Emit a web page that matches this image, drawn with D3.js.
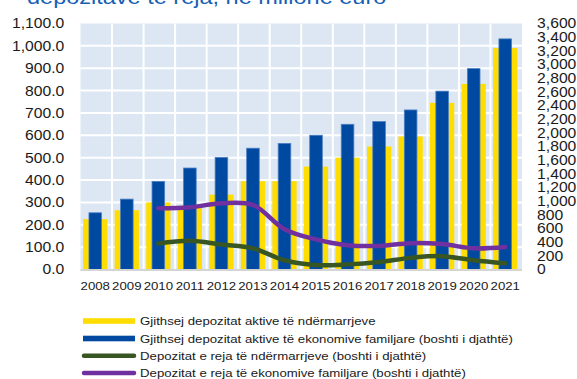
<!DOCTYPE html>
<html>
<head>
<meta charset="utf-8">
<script src="https://cdn.jsdelivr.net/npm/d3@7"></script>
<style>
  html, body { margin: 0; padding: 0; background: #fff; }
  svg { display: block; font-family: "Liberation Sans", Arial, sans-serif; }
</style>
</head>
<body>
<svg id="chart" width="577" height="379"></svg>
<script>
// Deposits by sector, million euro
const years = ["2008","2009","2010","2011","2012","2013","2014","2015","2016","2017","2018","2019","2020","2021"];
const enterpriseStock = [225, 265, 300, 285, 335, 395, 395, 460, 500, 550, 595, 745, 830, 990];        // left axis
const householdStock  = [830, 1030, 1290, 1485, 1640, 1775, 1845, 1965, 2125, 2165, 2335, 2610, 2940, 3375]; // right axis
const lineYears = ["2010","2011","2012","2013","2014","2015","2016","2017","2018","2019","2020","2021"];
const enterpriseNew = [380, 420, 365, 310, 135, 65, 75, 110, 170, 195, 135, 90];     // right axis
const householdNew  = [895, 910, 970, 945, 590, 440, 355, 345, 385, 372, 310, 330];  // right axis
const leftTicks  = d3.range(0, 1101, 100);
const rightTicks = d3.range(0, 3601, 200);
const titleText = "depozitave të reja, në milionë euro";
const legendLabels = [
  "Gjithsej depozitat aktive të ndërmarrjeve",
  "Gjithsej depozitat aktive të ekonomive familjare (boshti i djathtë)",
  "Depozitat e reja të ndërmarrjeve (boshti i djathtë)",
  "Depozitat e reja të ekonomive familjare (boshti i djathtë)"
];

const COL = {
  yellow: "#ffdd00",
  blue: "#0049a0",
  blueEdge: "#4f7fc4",
  green: "#375623",
  purple: "#7030a0",
  plotBg: "#dce7f3",
  text: "#1a1a1a",
  title: "#1660b6"
};
const SX = 1.12; // horizontal text widening

const svg = d3.select("#chart");
const P = { left: 80.5, right: 522, top: 23.5, bottom: 269.5 };

const x = d3.scaleBand().domain(years).range([P.left, P.right]).padding(0);
const yL = d3.scaleLinear().domain([0, 1100]).range([P.bottom, P.top]);
const yR = d3.scaleLinear().domain([0, 3600]).range([P.bottom, P.top]);

// Title (second line, running off the top edge)
svg.append("text")
  .attr("transform", `translate(27,3.5) scale(${SX},1)`)
  .attr("fill", COL.title)
  .attr("font-size", 21)
  .text(titleText);

// Plot background
svg.append("rect")
  .attr("x", P.left).attr("y", P.top)
  .attr("width", P.right - P.left).attr("height", P.bottom - P.top)
  .attr("fill", COL.plotBg);

// Grid
const grid = svg.append("g").attr("stroke", "#fff").attr("stroke-width", 2);
grid.selectAll("line.h").data(leftTicks.slice(1, -1)).join("line")
  .attr("x1", P.left).attr("x2", P.right)
  .attr("y1", d => yL(d)).attr("y2", d => yL(d));
grid.selectAll("line.v").data(years.slice(1)).join("line")
  .attr("x1", d => x(d)).attr("x2", d => x(d))
  .attr("y1", P.top).attr("y2", P.bottom);

// Bars
const bw = x.bandwidth();
svg.append("g").selectAll("rect").data(years).join("rect")
  .attr("x", (d, i) => x(d) + bw / 2 - 1 - bw * 0.385)
  .attr("width", bw * 0.77)
  .attr("y", (d, i) => yL(enterpriseStock[i]))
  .attr("height", (d, i) => yL(0) - yL(enterpriseStock[i]))
  .attr("fill", COL.yellow);

svg.append("g").selectAll("rect").data(years).join("rect")
  .attr("x", (d, i) => x(d) + bw / 2 - 1 - bw * 0.2)
  .attr("width", bw * 0.4)
  .attr("y", (d, i) => yR(householdStock[i]))
  .attr("height", (d, i) => yR(0) - yR(householdStock[i]))
  .attr("fill", COL.blue)
  .attr("stroke", COL.blueEdge)
  .attr("stroke-width", 0.8);

// Axis baseline
svg.append("line")
  .attr("x1", P.left).attr("x2", P.right)
  .attr("y1", P.bottom + 0.5).attr("y2", P.bottom + 0.5)
  .attr("stroke", "#d4d4d4").attr("stroke-width", 2);

// Lines
const lineGen = vals => d3.line()
  .x((d, i) => x(lineYears[i]) + bw / 2 - 1)
  .y(d => yR(d))
  .curve(d3.curveCatmullRom.alpha(0.5))(vals);

svg.append("path").attr("d", lineGen(enterpriseNew))
  .attr("fill", "none").attr("stroke", COL.green)
  .attr("stroke-width", 4.5).attr("stroke-linecap", "round");
svg.append("path").attr("d", lineGen(householdNew))
  .attr("fill", "none").attr("stroke", COL.purple)
  .attr("stroke-width", 4.5).attr("stroke-linecap", "round");

// Axes
function styleAxis(g) {
  g.select(".domain").remove();
  g.selectAll(".tick line").remove();
  g.selectAll("text").attr("fill", COL.text).attr("font-family", "'Liberation Sans', Arial, sans-serif");
}

const gL = svg.append("g").attr("transform", `translate(${P.left},0)`)
  .call(d3.axisLeft(yL).tickValues(leftTicks).tickFormat(d3.format(",.1f")).tickSize(0).tickPadding(14.5));
styleAxis(gL);
gL.selectAll("text").attr("font-size", 14).attr("transform", `scale(${SX},1)`);

const gR = svg.append("g").attr("transform", `translate(${P.right},0)`)
  .call(d3.axisRight(yR).tickValues(rightTicks).tickFormat(d3.format(",")).tickSize(0).tickPadding(13.5));
styleAxis(gR);
gR.selectAll("text").attr("font-size", 14).attr("transform", `scale(${SX},1)`);

const gB = svg.append("g").attr("transform", `translate(0,${P.bottom})`)
  .call(d3.axisBottom(x).tickSize(0).tickPadding(12));
styleAxis(gB);
gB.selectAll(".tick").attr("transform", d => `translate(${x(d) + bw / 2 - 1},0)`);
gB.selectAll("text").attr("font-size", 11.8).attr("transform", `scale(${SX},1)`);

// Legend
const legend = svg.append("g");
const rowsY = [321, 338.5, 355.8, 373];
legendLabels.forEach((lab, i) => {
  const g = legend.append("g").attr("transform", `translate(0,${rowsY[i]})`);
  if (i < 2) {
    g.append("rect").attr("x", 83).attr("y", -2.8).attr("width", 52).attr("height", 5.6)
      .attr("fill", i === 0 ? COL.yellow : COL.blue);
  } else {
    g.append("line").attr("x1", 84).attr("x2", 134).attr("y1", 0).attr("y2", 0)
      .attr("stroke", i === 2 ? COL.green : COL.purple)
      .attr("stroke-width", 4.5).attr("stroke-linecap", "round");
  }
  g.append("text")
    .attr("transform", `translate(140,0) scale(${SX},1)`)
    .attr("dy", "0.35em")
    .attr("font-size", 11.8)
    .attr("fill", COL.text)
    .text(lab);
});
</script>
</body>
</html>
